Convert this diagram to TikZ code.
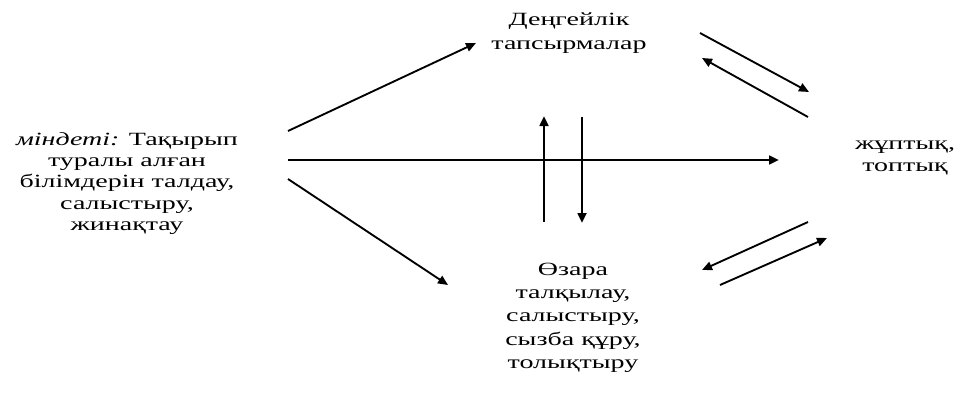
\documentclass[tikz,border=0pt]{standalone}
\usepackage{fontspec}
\setmainfont{Liberation Serif}[FakeStretch=1.5]
\usetikzlibrary{arrows.meta}

\tikzset{every picture/.style={line width=0.75pt}}
\tikzset{
  txt/.style={align=center, inner sep=0.75pt, font=\fontsize{14}{17.5}\selectfont},
  slant/.style={-{Triangle[length=7.5pt,width=6.5pt]}, line width=1.4pt},
  axis/.style={-{Triangle[length=7.5pt,width=6.5pt]}, line width=2pt},
}

\begin{document}
\begin{tikzpicture}[x=0.75pt,y=0.75pt,yscale=-1,xscale=1]
\path (0,0) rectangle (957,396); %set diagram size

% Text Node
\node (task) at (127,183.5) [txt, font=\fontsize{14}{15.8}\selectfont] {\textit{міндеті:} Тақырып\\туралы алған\\білімдерін талдау,\\салыстыру,\\жинақтау};
% Text Node
\node (level) at (569,33) [txt] {Деңгейлік\\тапсырмалар};
% Text Node
\node (mutual) at (573,317.5) [txt] {Өзара\\талқылау,\\салыстыру,\\сызба құру,\\толықтыру};
% Text Node
\node (pair) at (905,158) [txt, font=\fontsize{14}{15.8}\selectfont] {жұптық,\\топтық};

% arrow ends
\coordinate (a1) at (288,131); \coordinate (a2) at (476,43);
\coordinate (b1) at (288,160); \coordinate (b2) at (779,160);
\coordinate (c1) at (288,179); \coordinate (c2) at (448,285);
\coordinate (d1) at (544,222); \coordinate (d2) at (544,116);
\coordinate (e1) at (582,117); \coordinate (e2) at (582,223);
\coordinate (f1) at (700,33); \coordinate (f2) at (809,92);
\coordinate (g1) at (808,117); \coordinate (g2) at (702,58);
\coordinate (h1) at (808,222); \coordinate (h2) at (702,270);
\coordinate (k1) at (720,285); \coordinate (k2) at (827,238);

% Arrows
\draw [slant] (a1) -- (a2);
\draw [axis] (b1) -- (b2);
\draw [slant] (c1) -- (c2);
\draw [axis] (d1) -- (d2);
\draw [axis] (e1) -- (e2);
\draw [slant] (f1) -- (f2);
\draw [slant] (g1) -- (g2);
\draw [slant] (h1) -- (h2);
\draw [slant] (k1) -- (k2);

\end{tikzpicture}
\end{document}
